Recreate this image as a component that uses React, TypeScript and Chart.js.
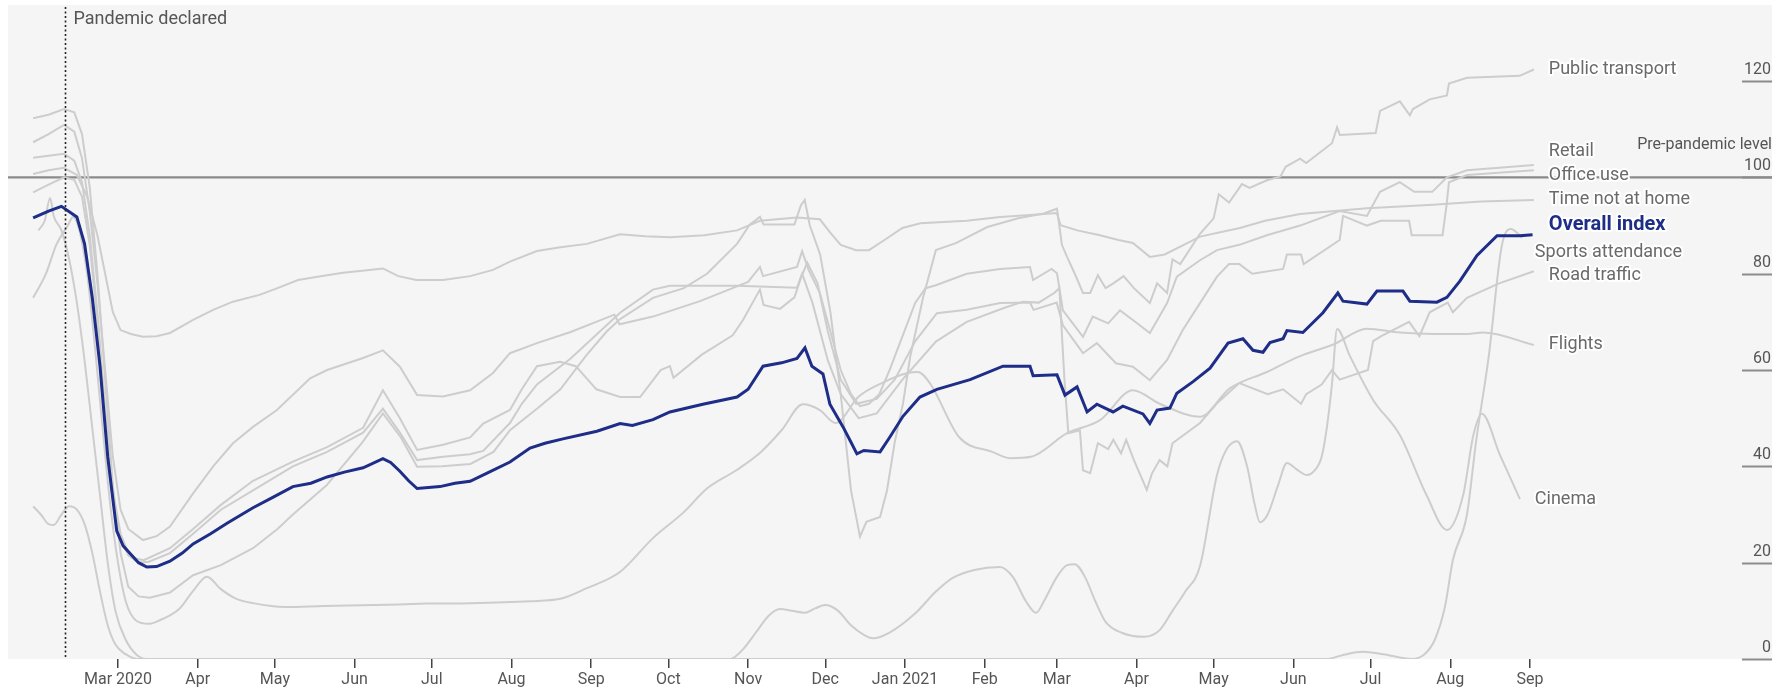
import React, { useEffect, useRef } from "react";
import { Chart, registerables } from "chart.js";

Chart.register(...registerables);

// x values are days counted from 1 March 2020
const monthTickDays = [0, 31, 61, 92, 122, 153, 184, 214, 245, 275, 306, 337, 365, 396, 426, 457, 487, 518, 549];
const monthTickLabels = ["Mar 2020", "Apr", "May", "Jun", "Jul", "Aug", "Sep", "Oct", "Nov", "Dec", "Jan 2021", "Feb", "Mar", "Apr", "May", "Jun", "Jul", "Aug", "Sep"];
const yTickValues = [0, 20, 40, 60, 80, 100, 120];
const pandemicDeclaredDay = -20.6;
const prePandemicLevel = 100;

const overallIndex: [number, number][] = [
  [-33, 91.6], [-27, 93], [-22, 94.0], [-16, 91.8], [-13, 86.2], [-10, 75], [-7, 60.8], [-4, 42], [-0.5, 26.6], [2, 23.5],
  [4.7, 21.9], [8, 20], [11.2, 19.1], [15, 19.2], [20.2, 20.3], [25, 22], [29.2, 23.9], [36, 26], [42.4, 28.2], [52.5, 31.4],
  [60, 33.5], [68, 35.8], [75, 36.5], [81.3, 37.8], [88, 38.8], [95.3, 39.7], [103, 41.6], [106, 40.8], [109.6, 39], [113, 37],
  [116.3, 35.4], [125.2, 35.8], [131, 36.5], [136.9, 36.9], [143.5, 38.6], [152.4, 40.9], [160.2, 43.8], [166, 44.8], [173, 45.7],
  [186.2, 47.3], [195.2, 48.9], [200, 48.5], [208, 49.7], [214.6, 51.3], [227.4, 52.9], [240.7, 54.4], [245, 56], [250.8, 60.8],
  [258, 61.5], [264, 62.4], [267.1, 64.6], [269.8, 60.8], [274.1, 59.2], [276.8, 52.9], [281.9, 48.2], [285, 45], [287.3, 42.6],
  [290, 43.3], [296.3, 43.0], [300, 46], [305.2, 50.4], [311.8, 54.4], [318.4, 56.0], [331.3, 58.0], [344.1, 60.8], [354.6, 60.8],
  [355.8, 58.8], [365.1, 59.0], [368.2, 54.8], [372.9, 56.5], [376.8, 51.3], [380.6, 52.9], [386.9, 51.3], [390.7, 52.5],
  [398.5, 50.9], [401.2, 48.9], [404, 51.7], [409, 52.1], [411.7, 55.2], [418, 57.6], [424.6, 60.4], [431.6, 65.6], [437.4, 66.5],
  [441.3, 64.1], [445.2, 63.7], [447.9, 65.7], [453, 66.5], [454.5, 68.2], [460.7, 67.8], [468.5, 71.9], [474.3, 76.0], [476.3, 74.3],
  [485.6, 73.7], [489.5, 76.4], [499.6, 76.4], [502.3, 74.3], [512.8, 74.1], [516.7, 75.1], [521.8, 78.5], [528.4, 83.8],
  [536.2, 87.9], [545.1, 87.9], [550, 88.1],
];

const publicTransport: [number, number][] = [
  [-33, 112.3], [-27, 113], [-21, 114.2], [-17, 113.5], [-14, 109], [-11, 98], [-8, 80], [-5, 58], [-2, 36], [1, 22], [4, 15],
  [8, 13], [12.4, 12.7], [20.2, 13.8], [29.2, 17.4], [40, 19.5], [52.5, 23], [62, 27], [68, 30], [81, 36], [95, 45], [103, 51],
  [110, 46], [116.3, 39.9], [126, 40], [137, 40.5], [146, 43], [152.4, 47.5], [163, 52], [172, 56], [182, 63], [190, 68],
  [195, 70.5], [208, 75], [220, 77], [229, 80], [240.7, 86.2], [245.6, 90.2], [249.6, 91.8], [251, 90.2], [263, 90.2],
  [265.5, 94.2], [267, 95.3], [269, 90], [273, 84], [277, 72], [281, 55], [285, 35], [288.5, 25.4], [291, 28.5], [296.3, 29.5],
  [299, 35], [302, 45], [305.2, 53], [308, 62.7], [313, 75], [318, 84.9], [326, 86.4], [338, 89.7], [350, 91.5], [360, 92.5],
  [365.1, 93.5], [367, 86], [369, 83.5], [372, 80], [375.2, 76], [378, 76], [381, 79.7], [384, 77], [387, 78], [391, 79.5],
  [395, 77], [401.2, 73.9], [404, 78], [407.9, 76], [410, 83], [413, 82], [420.7, 88.3], [426, 91.5], [428, 96.5], [432, 94.8],
  [437, 98.6], [440, 97.8], [446.7, 99.4], [452, 100.2], [454, 102.2], [459.6, 103.9], [462, 103], [472, 107.1], [474, 110.4],
  [475.1, 108.8], [489, 109.2], [490.7, 113.8], [498.4, 115.8], [502.3, 112.9], [503.5, 114.2], [510, 116.2], [516.7, 117],
  [517.5, 119.5], [524.5, 120.7], [545, 121.1], [550.5, 122.4],
];

const retail: [number, number][] = [
  [-33, 107.3], [-27, 109], [-21, 110.9], [-17, 109.5], [-14, 104], [-11, 93], [-8, 78], [-5, 60], [-2, 42], [1, 31], [4, 27],
  [9.7, 24.7], [15, 25.5], [20.2, 27.5], [29.2, 34.4], [37, 40], [44.7, 44.8], [52.5, 48.2], [61.8, 51.7], [74.7, 58.3],
  [81.3, 60], [95.3, 62.5], [103, 64.1], [109.6, 60.7], [116.3, 54.8], [126.4, 54.5], [136.9, 55.8], [145.8, 59.4], [152.4, 63.5],
  [162.9, 65.6], [176, 67.9], [193, 71.5], [195, 69.5], [208, 71.1], [226.3, 74.3], [245, 78.3], [249.6, 81.4], [250.8, 79.5],
  [264, 81.4], [266, 84.7], [268.5, 80.8], [272.9, 76], [277, 68], [281, 60], [285, 55], [288.5, 52.5], [292, 53], [296, 55],
  [300, 60], [305, 67], [310, 74], [314, 77], [318, 77.6], [330, 80], [343, 81], [354.6, 81.4], [355.8, 78.7], [363, 81],
  [365.1, 80.1], [367.4, 72.4], [375.2, 66.9], [379, 71.1], [385, 69.7], [389.6, 72.4], [394.6, 70.4], [401.2, 67.7],
  [407.9, 73.9], [411.7, 79.4], [420.7, 82.8], [427.3, 84.9], [436, 86], [446.7, 88], [459.6, 90], [475, 93], [485.6, 92],
  [490.7, 97], [498.4, 99], [504, 97], [511, 97], [516.7, 100], [524.5, 101.5], [537, 102], [550.5, 102.6],
];

const officeUse: [number, number][] = [
  [-33, 104.1], [-27, 104.5], [-21, 104.9], [-17, 103.5], [-14, 99], [-11, 88], [-8, 72], [-5, 52], [-2, 35], [1, 26], [4, 22],
  [6, 21], [10, 20.5], [20.2, 23], [29.2, 27], [40, 32], [52.5, 37], [68, 41], [81.3, 44], [95.3, 48], [103, 55.8], [109.6, 50],
  [116.3, 43.4], [126.4, 44.5], [136.9, 46], [142, 48.9], [152.4, 51.7], [157, 56], [162.9, 60.8], [171.9, 61.7], [178, 60.8],
  [186, 56], [195.2, 54.4], [203, 54.4], [211, 60], [214.6, 60.8], [216, 58.4], [227, 63.2], [239, 67.2], [243, 70.4],
  [249.6, 76.7], [251, 73.5], [257.4, 72.7], [263, 75.1], [265.5, 79.1], [268, 82.3], [272, 78], [276, 68], [281, 58], [287, 53],
  [295, 54], [302, 58], [310, 66], [318.4, 71.8], [330, 72.5], [343, 73.9], [354.6, 74], [356, 72.5], [365, 74], [366, 72],
  [367.4, 69.3], [375.2, 63.5], [380.6, 65.6], [388, 61.4], [394.6, 60.7], [401.2, 57.9], [407.9, 62.1], [414, 68.3],
  [420.7, 73.9], [427.3, 79.4], [432, 82], [436, 82], [441, 80], [453, 81], [454.5, 84], [460, 84], [461, 82], [475, 87],
  [476.3, 92], [485.6, 90], [491, 91], [502, 91], [503, 88], [515, 88], [516.5, 94], [517.5, 99], [524.5, 100.5], [550.5, 101.5],
];

const timeNotAtHome: [number, number][] = [
  [-33, 100.7], [-27, 101.5], [-21, 102], [-16, 100.5], [-12, 96], [-8, 88], [-5, 80], [-2, 72], [1, 68.3], [5, 67.5],
  [9.7, 66.9], [15, 67], [20.2, 67.7], [29.2, 70.4], [37, 72.5], [44.7, 74.2], [55, 75.6], [62, 77], [70, 78.7], [80, 79.6],
  [87.5, 80.2], [95, 80.6], [103, 81.1], [109, 79.5], [116, 78.7], [126.4, 78.7], [136.9, 79.5], [145.8, 80.8], [152.4, 82.5],
  [162.9, 84.7], [172, 85.5], [182.3, 86.2], [195.2, 88.2], [205, 87.8], [214.6, 87.6], [228, 88], [240.7, 89.0], [249.6, 91.0],
  [264, 91.7], [272.9, 91.3], [277, 88.5], [281, 86], [287, 84.9], [292, 84.9], [298, 87], [305, 89.5], [312, 90.5], [330, 91],
  [343, 91.8], [354.6, 92.2], [365, 92.6], [366.5, 90.1], [373, 89], [381.8, 88], [389, 87], [394.6, 86.4], [401.2, 83.5],
  [407, 84], [420.7, 87.7], [436.2, 89.5], [446, 91], [459.6, 92.4], [485.6, 93.6], [511.3, 94.3], [530, 95], [550.5, 95.3],
];

const sportsAttendance: [number, number][] = [
  [-31, 89], [-28.5, 91], [-26.4, 95.7], [-25, 92], [-22, 89], [-19, 83], [-16, 74], [-13, 62], [-10, 48], [-7, 34], [-4, 20],
  [-1, 10], [3, 4], [7, 1], [11, 0], [470, 0], [476, 0.8], [484, 1.5], [492, 1], [503, 0], [508, 1], [512, 4], [516, 11],
  [519, 20.5], [524.5, 30], [528, 45], [533, 63], [538, 85.7], [541.5, 89.3], [546, 87.5],
];

const roadTraffic: [number, number][] = [
  [-33, 96.9], [-27, 98.5], [-21, 100], [-17, 99.5], [-14, 96], [-11, 86], [-8, 70], [-5, 50], [-2, 33], [1, 25], [4, 21.5],
  [8, 20], [12, 20.2], [20.2, 22], [29.2, 26], [40, 31], [52.5, 35], [68, 40], [81.3, 43], [95.3, 47], [103, 52], [109.6, 47],
  [116.3, 41.3], [126.4, 42], [136.9, 42.5], [142, 43.2], [152.4, 49], [157, 53], [162.9, 57], [176, 62.4], [195.2, 71.9],
  [208, 76.7], [214.6, 77.5], [240.7, 77.5], [264, 77.1], [266, 80], [270, 74], [276, 62], [281, 55], [288, 50], [295, 51],
  [305, 58], [318, 65.9], [330, 70], [345, 73], [352, 74.2], [358, 74], [364, 76], [366, 77], [368, 58], [369.5, 46.9],
  [374, 47.5], [375.2, 39.2], [378, 38.6], [381, 44.8], [385, 43.6], [387, 45.5], [390, 42.7], [392, 45.5], [395, 41.3],
  [400, 35.1], [402, 38.5], [405, 41.3], [408, 40], [410, 44.8], [420.7, 49], [427.3, 53.1], [436, 57.3], [447, 55], [453, 56],
  [460, 53], [462, 55], [468, 57], [472, 60], [475, 58], [486, 60], [488, 66], [491, 67], [502, 70], [506, 67], [510, 72],
  [517, 74], [519, 72], [524.5, 75], [537, 78], [550.5, 80.5],
];

const flights: [number, number][] = [
  [-33, 75], [-28, 80], [-24, 86], [-19.5, 90], [-17.5, 91.8], [-15, 89], [-12, 80], [-9, 65], [-6, 48], [-3, 32], [0, 20],
  [3, 12], [7, 8], [12, 7.3], [16, 8], [20, 9], [24, 10.5], [29, 14], [34.6, 17.1], [40, 14.5], [46, 12.5], [52.5, 11.6],
  [65, 10.8], [80, 11], [100, 11.2], [120, 11.5], [137, 11.6], [160, 12], [172, 12.5], [182.3, 14.7], [195, 18], [208, 25.1],
  [220, 30.5], [229, 35.4], [240.7, 39.3], [250, 43], [258, 47.5], [266.3, 52.9], [272.9, 51.7], [279, 49], [288, 54.5],
  [297, 57.3], [307, 59.4], [311, 59.6], [316, 57], [327, 46.1], [340, 43], [346.8, 41.7], [355, 42], [369, 46.9],
  [381.8, 49.6], [394.6, 55.8], [405, 53], [420.7, 50.3], [432.3, 56.2], [446.7, 59.6], [459.6, 62.9], [472.5, 65.3],
  [485.6, 68.6], [498.4, 67.8], [511.3, 67.5], [524.5, 67.5], [530.7, 67.8], [550.5, 65.2],
];

const cinema: [number, number][] = [
  [-33, 31.7], [-30, 30], [-27, 28], [-25, 27.8], [-22, 30], [-19, 31.7], [-16, 31], [-13, 28], [-10, 22], [-7, 14], [-4, 7],
  [-1, 3], [3, 1], [7.4, 0], [238, 0], [243, 2], [248, 5.5], [253, 9], [257.4, 10.4], [262, 10], [267, 9.6], [271, 10.5],
  [275, 11.2], [280, 10], [285, 7], [290, 5], [293.5, 4.3], [300, 5.5], [310, 9.5], [318, 14], [324.4, 16.8], [333, 18.5],
  [342.9, 19.1], [348, 17], [353, 12], [357, 9.6], [360, 12], [365, 17], [369, 19.5], [372, 19.7], [376, 17], [380, 12],
  [384, 7.7], [390, 5.5], [399, 4.6], [405, 6], [410, 10], [415, 14], [420.7, 19.3], [427.3, 38.2], [431, 43.5], [435.1, 45.2],
  [439, 40], [442, 32], [444, 28.4], [447, 30], [451, 36], [454.5, 40.7], [458, 39.5], [462.3, 38.2], [465, 39], [468, 42],
  [470, 48], [472, 57], [474, 68.5], [479, 62.9], [488, 53.8], [498.4, 46.5], [508.8, 34], [516.7, 26.8], [523, 34],
  [527, 46.5], [530.3, 50.9], [537.3, 42.4], [545.1, 33.2],
];

// label layout (value units for vertical anchor, pixel indent after last day)
const seriesLabels = [
  { text: "Public transport", value: 122.5, indent: 15, bold: false },
  { text: "Retail", value: 105.3, indent: 15, bold: false },
  { text: "Office use", value: 100.3, indent: 15, bold: false },
  { text: "Time not at home", value: 95.5, indent: 15, bold: false },
  { text: "Overall index", value: 90.1, indent: 15, bold: true },
  { text: "Sports attendance", value: 84.5, indent: 1, bold: false },
  { text: "Road traffic", value: 79.7, indent: 15, bold: false },
  { text: "Flights", value: 65.4, indent: 15, bold: false },
  { text: "Cinema", value: 33.2, indent: 1, bold: false },
];
const lastDay = 550.5;

const NAVY = "#1e2d87";
const GREY_LINE = "#cdcdcd";
const FONT = "Roboto, 'Open Sans', sans-serif";

const toXY = (s: [number, number][]) => s.map(([x, y]) => ({ x, y }));

export default function App() {
  const ref = useRef<HTMLCanvasElement | null>(null);

  useEffect(() => {
    if (!ref.current) return;
    const grey = (data: [number, number][], smooth = false) => ({
      data: toXY(data),
      borderColor: GREY_LINE,
      borderWidth: 2,
      pointRadius: 0,
      tension: smooth ? 0.4 : 0,
      cubicInterpolationMode: smooth ? ("monotone" as const) : ("default" as const),
      fill: false,
    });

    const decorations = {
      id: "decorations",
      beforeDraw(chart: any) {
        const { ctx, chartArea } = chart;
        ctx.save();
        ctx.fillStyle = "#ffffff";
        ctx.fillRect(0, 0, chart.width, chart.height);
        ctx.fillStyle = "#f5f5f5";
        ctx.fillRect(chartArea.left, chartArea.top, chartArea.right - chartArea.left, chartArea.bottom - chartArea.top);
        ctx.restore();
      },
      beforeDatasetsDraw(chart: any) {
        const { ctx, chartArea, scales } = chart;
        const y = scales.y;
        ctx.save();
        // right side tick marks
        ctx.strokeStyle = "#8c8c8c";
        ctx.lineWidth = 2;
        yTickValues.forEach((v) => {
          const py = Math.round(y.getPixelForValue(v)) + 0.5;
          ctx.beginPath();
          ctx.moveTo(chartArea.right - 30, py);
          ctx.lineTo(chartArea.right, py);
          ctx.stroke();
        });
        // pre-pandemic level line
        const p100 = y.getPixelForValue(prePandemicLevel);
        ctx.strokeStyle = "#8a8a8a";
        ctx.lineWidth = 2.2;
        ctx.beginPath();
        ctx.moveTo(chartArea.left, p100);
        ctx.lineTo(chartArea.right, p100);
        ctx.stroke();
        ctx.restore();
      },
      afterDatasetsDraw(chart: any) {
        const { ctx, chartArea, scales } = chart;
        const x = scales.x;
        const y = scales.y;
        ctx.save();
        // pandemic declared dotted line
        const px = Math.round(x.getPixelForValue(pandemicDeclaredDay)) + 0.5;
        ctx.strokeStyle = "#222";
        ctx.lineWidth = 1.6;
        ctx.setLineDash([2, 2.5]);
        ctx.beginPath();
        ctx.moveTo(px, chartArea.top + 2);
        ctx.lineTo(px, chartArea.bottom);
        ctx.stroke();
        ctx.setLineDash([]);
        ctx.font = `18px ${FONT}`;
        ctx.fillStyle = "#555";
        ctx.textAlign = "left";
        ctx.textBaseline = "middle";
        ctx.fillText("Pandemic declared", px + 8, chartArea.top + 14);

        // y labels on the right
        ctx.font = `16px ${FONT}`;
        ctx.fillStyle = "#555";
        ctx.textAlign = "right";
        ctx.textBaseline = "bottom";
        yTickValues.forEach((v) => {
          const py = y.getPixelForValue(v);
          ctx.fillText(String(v), chartArea.right - 1, py - 3);
        });
        ctx.fillText("Pre-pandemic level", chartArea.right, y.getPixelForValue(prePandemicLevel) - 24);

        // series labels
        const endX = x.getPixelForValue(lastDay);
        ctx.textAlign = "left";
        ctx.textBaseline = "middle";
        ctx.lineJoin = "round";
        seriesLabels.forEach((l) => {
          ctx.font = l.bold ? `bold 20px ${FONT}` : `18px ${FONT}`;
          const lx = endX + l.indent;
          const ly = y.getPixelForValue(l.value);
          ctx.strokeStyle = "rgba(255,255,255,0.95)";
          ctx.lineWidth = 4;
          ctx.strokeText(l.text, lx, ly);
          ctx.fillStyle = l.bold ? NAVY : "#6a6a6a";
          ctx.fillText(l.text, lx, ly);
        });
        ctx.restore();
      },
    };

    const chart = new Chart(ref.current, {
      type: "line",
      data: {
        datasets: [
          {
            data: toXY(overallIndex),
            borderColor: NAVY,
            borderWidth: 3,
            pointRadius: 0,
            tension: 0,
            fill: false,
          },
          grey(publicTransport),
          grey(retail),
          grey(officeUse),
          grey(timeNotAtHome),
          grey(sportsAttendance, true),
          grey(roadTraffic),
          grey(flights, true),
          grey(cinema, true),
        ] as any,
      },
      options: {
        responsive: false,
        animation: false,
        devicePixelRatio: 1,
        layout: { padding: { left: 8, top: 5, right: 0, bottom: 0 } },
        plugins: { legend: { display: false }, tooltip: { enabled: false } },
        elements: { point: { radius: 0 } },
        scales: {
          x: {
            type: "linear",
            min: -42.77,
            max: 643.1,
            afterBuildTicks: (axis: any) => {
              axis.ticks = monthTickDays.map((v) => ({ value: v }));
            },
            afterFit: (scale: any) => {
              scale.height = 36;
            },
            ticks: {
              autoSkip: false,
              maxRotation: 0,
              padding: 2,
              color: "#555",
              font: { family: FONT, size: 16 },
              callback: (_v: any, i: number) => monthTickLabels[i],
            },
            grid: { drawOnChartArea: false, drawTicks: true, tickLength: 9, color: "#444", lineWidth: 1.5 },
            border: { display: false },
          },
          y: { display: false, min: 0, max: 135.8 },
        },
      } as any,
      plugins: [decorations],
    });
    return () => chart.destroy();
  }, []);

  return (
    <div style={{ position: "absolute", left: 0, top: 0, width: 1772, height: 695, background: "#fff" }}>
      <canvas ref={ref} width={1772} height={695} style={{ display: "block", width: 1772, height: 695 }} />
    </div>
  );
}
